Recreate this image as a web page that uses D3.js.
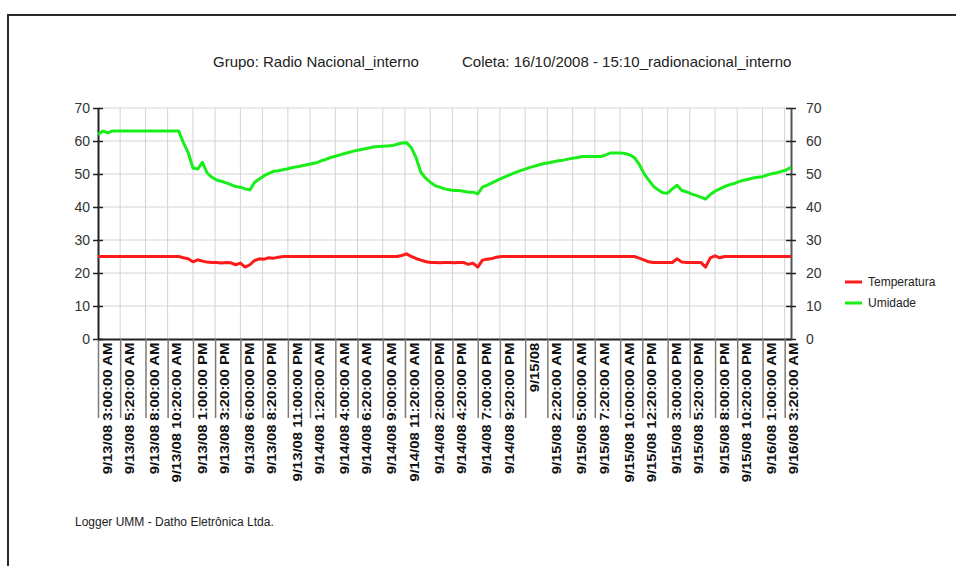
<!DOCTYPE html>
<html>
<head>
<meta charset="utf-8">
<script src="https://cdn.jsdelivr.net/npm/d3@7"></script>
<style>
  body { margin: 0; background: #fff; }
  svg { display: block; font-family: "Liberation Sans", Arial, sans-serif; }
  .grid line { stroke: #d4d4d4; stroke-width: 1; }
</style>
</head>
<body>
<script>
// logger readings, one value every 30 minutes starting 9/13/08 3:00 AM
var startTime = "9/13/08 3:00:00 AM";
var stepMinutes = 30;

var umidade = [
  62, 63, 62.5, 63, 63, 63, 63, 63, 63, 63, 63, 63, 63, 63, 63, 63, 63, 63,
  59.5, 56.5, 51.8, 51.5, 53.5, 50.3, 49, 48.2, 47.8, 47.3, 46.8, 46.2, 46, 45.5, 45.2,
  47.5, 48.5, 49.5, 50.2, 50.8, 51, 51.3, 51.6, 52, 52.2, 52.5, 52.8, 53.1, 53.4, 54,
  54.4, 55, 55.4, 55.8, 56.2, 56.6, 57, 57.3, 57.6, 57.9, 58.2, 58.3, 58.4, 58.5, 58.6,
  59, 59.4, 59.5, 58, 55, 50.6, 48.8, 47.5, 46.5, 46, 45.5, 45.2, 45, 45, 44.8, 44.5,
  44.5, 44, 46, 46.6, 47.3, 48, 48.7, 49.3, 49.9, 50.5, 51, 51.5, 52, 52.4, 52.8, 53.2,
  53.4, 53.7, 54, 54.2, 54.5, 54.8, 55, 55.3, 55.3, 55.3, 55.3, 55.3, 55.8, 56.4, 56.4,
  56.4, 56.2, 55.8, 55, 53, 50.2, 48.2, 46.3, 45.2, 44.3, 44.2, 45.5, 46.6, 45, 44.6,
  44, 43.5, 43, 42.4, 43.8, 44.8, 45.5, 46.2, 46.7, 47.1, 47.7, 48.1, 48.4, 48.8, 49,
  49.2, 49.7, 50.1, 50.4, 50.8, 51.2, 52
];

var temperatura = [
  25, 25, 25, 25, 25, 25, 25, 25, 25, 25, 25, 25, 25, 25, 25, 25, 25, 25,
  24.6, 24.3, 23.4, 24, 23.6, 23.3, 23.2, 23.2, 23, 23.2, 23.1, 22.5, 23, 21.8, 22.5,
  23.8, 24.3, 24.2, 24.6, 24.5, 24.8, 25, 25, 25, 25, 25, 25, 25, 25, 25,
  25, 25, 25, 25, 25, 25, 25, 25, 25, 25, 25, 25, 25, 25, 25,
  25, 25.3, 25.8, 25, 24.4, 23.9, 23.5, 23.2, 23.2, 23.1, 23.2, 23.2, 23.1, 23.2, 23.2, 22.6,
  23, 21.8, 23.9, 24.2, 24.4, 24.8, 25, 25, 25, 25, 25, 25, 25, 25, 25, 25,
  25, 25, 25, 25, 25, 25, 25, 25, 25, 25, 25, 25, 25, 25, 25,
  25, 25, 25, 25, 24.5, 24, 23.4, 23.2, 23.2, 23.2, 23.2, 23.2, 24.3, 23.3, 23.2,
  23.2, 23.2, 23.2, 21.8, 24.6, 25.2, 24.6, 25, 25, 25, 25, 25, 25, 25, 25,
  25, 25, 25, 25, 25, 25, 25
];

// category labels shown on the time axis
var tickLabels = [
  "9/13/08 3:00:00 AM", "9/13/08 5:20:00 AM", "9/13/08 8:00:00 AM", "9/13/08 10:20:00 AM",
  "9/13/08 1:00:00 PM", "9/13/08 3:20:00 PM", "9/13/08 6:00:00 PM", "9/13/08 8:20:00 PM",
  "9/13/08 11:00:00 PM", "9/14/08 1:20:00 AM", "9/14/08 4:00:00 AM", "9/14/08 6:20:00 AM",
  "9/14/08 9:00:00 AM", "9/14/08 11:20:00 AM", "9/14/08 2:00:00 PM", "9/14/08 4:20:00 PM",
  "9/14/08 7:00:00 PM", "9/14/08 9:20:00 PM", "9/15/08", "9/15/08 2:20:00 AM",
  "9/15/08 5:00:00 AM", "9/15/08 7:20:00 AM", "9/15/08 10:00:00 AM", "9/15/08 12:20:00 PM",
  "9/15/08 3:00:00 PM", "9/15/08 5:20:00 PM", "9/15/08 8:00:00 PM", "9/15/08 10:20:00 PM",
  "9/16/08 1:00:00 AM", "9/16/08 3:20:00 AM"
];

var yTicks = [0, 10, 20, 30, 40, 50, 60, 70];
var seriesNames = ["Temperatura", "Umidade"];
var seriesColors = ["#ff1a1a", "#1aee1a"];

var w = 956;
var h = 566;
var margin = {top: 108, right: 165, bottom: 227, left: 98};
var pw = w - margin.left - margin.right;
var ph = h - margin.top - margin.bottom;

var parseFull = d3.timeParse("%m/%d/%y %I:%M:%S %p");
var parseDay = d3.timeParse("%m/%d/%y");
function parseLabel(s) { return parseFull(s) || parseDay(s); }

var t0 = parseFull(startTime);
var timeAt = function(i) { return d3.timeMinute.offset(t0, i * stepMinutes); };

var svg = d3.select("body").append("svg")
    .attr("width", w)
    .attr("height", h);

// page frame
svg.append("line").attr("x1", 7).attr("x2", w).attr("y1", 15).attr("y2", 15)
    .attr("stroke", "#2a2a2a").attr("stroke-width", 2);
svg.append("line").attr("x1", 8).attr("x2", 8).attr("y1", 15).attr("y2", h)
    .attr("stroke", "#2a2a2a").attr("stroke-width", 2);

// titles
svg.append("text").attr("x", 213).attr("y", 67)
    .style("font-size", "15px").attr("fill", "#222")
    .text("Grupo: Radio Nacional_interno");
svg.append("text").attr("x", 462).attr("y", 67)
    .style("font-size", "15px").attr("fill", "#222")
    .text("Coleta: 16/10/2008 - 15:10_radionacional_interno");

var g = svg.append("g")
    .attr("transform", "translate(" + margin.left + "," + margin.top + ")");

var xScale = d3.scaleTime()
    .domain([t0, timeAt(umidade.length - 1)])
    .range([0, pw]);

var yScale = d3.scaleLinear()
    .domain([0, 70])
    .range([ph, 0]);

var tickDates = tickLabels.map(parseLabel);

// grid
g.append("g").attr("class", "grid")
  .selectAll("line.h").data(yTicks.slice(1)).enter().append("line")
    .attr("x1", 0).attr("x2", pw)
    .attr("y1", function(d) { return yScale(d); })
    .attr("y2", function(d) { return yScale(d); });
g.append("g").attr("class", "grid")
  .selectAll("line.v").data(tickDates.slice(1)).enter().append("line")
    .attr("x1", function(d) { return xScale(d); })
    .attr("x2", function(d) { return xScale(d); })
    .attr("y1", 0).attr("y2", ph);

// x axis with long tick marks and rotated labels
var xAxis = g.append("g")
    .attr("transform", "translate(0," + ph + ")")
    .call(d3.axisBottom(xScale)
      .tickValues(tickDates)
      .tickSize(79)
      .tickSizeOuter(0)
      .tickFormat(function(d, i) { return tickLabels[i]; }));
xAxis.select(".domain").attr("stroke", "#222").attr("stroke-width", 2);
xAxis.selectAll(".tick line").attr("stroke", "#7a7a7a").attr("stroke-width", 1.5);
xAxis.selectAll("text")
    .attr("transform", "rotate(-90) scale(1.24,1)")
    .attr("x", -3)
    .attr("y", 9)
    .attr("dy", "0.35em")
    .style("text-anchor", "end")
    .style("font-size", "12px")
    .style("font-weight", "bold")
    .style("font-family", "'Liberation Sans', Arial, sans-serif")
    .attr("fill", "#111");

// y axes, both sides
var yLeft = g.append("g")
    .call(d3.axisLeft(yScale).tickValues(yTicks).tickSize(5).tickSizeOuter(0).tickPadding(3));
var yRight = g.append("g")
    .attr("transform", "translate(" + pw + ",0)")
    .call(d3.axisRight(yScale).tickValues(yTicks).tickSize(5).tickSizeOuter(0).tickPadding(10));
[yLeft, yRight].forEach(function(ax, k) {
  ax.select(".domain").attr("stroke", k ? "#555" : "#222").attr("stroke-width", 2);
  ax.selectAll(".tick line").attr("x1", k ? -5 : 5).attr("stroke", "#222").attr("stroke-width", 1.5);
  ax.selectAll("text")
      .style("font-size", "14px")
      .style("font-family", "'Liberation Sans', Arial, sans-serif")
      .attr("fill", "#333");
});

// lines
var line = d3.line()
    .x(function(d, i) { return xScale(timeAt(i)); })
    .y(function(d) { return yScale(d); });

[temperatura, umidade].forEach(function(series, k) {
  g.append("path")
      .datum(series)
      .attr("fill", "none")
      .attr("stroke", seriesColors[k])
      .attr("stroke-width", 3)
      .attr("stroke-linejoin", "round")
      .attr("d", line);
});

// legend
var legend = svg.append("g").attr("transform", "translate(845,282)");
seriesNames.forEach(function(name, k) {
  legend.append("line")
      .attr("x1", 0).attr("x2", 17)
      .attr("y1", k * 21).attr("y2", k * 21)
      .attr("stroke", seriesColors[k]).attr("stroke-width", 3);
  legend.append("text")
      .attr("x", 23).attr("y", k * 21).attr("dy", "0.35em")
      .style("font-size", "12px").attr("fill", "#222")
      .text(name);
});

// footer
svg.append("text").attr("x", 75).attr("y", 526)
    .style("font-size", "12px").attr("fill", "#222")
    .text("Logger UMM - Datho Eletrônica Ltda.");
</script>
</body>
</html>
